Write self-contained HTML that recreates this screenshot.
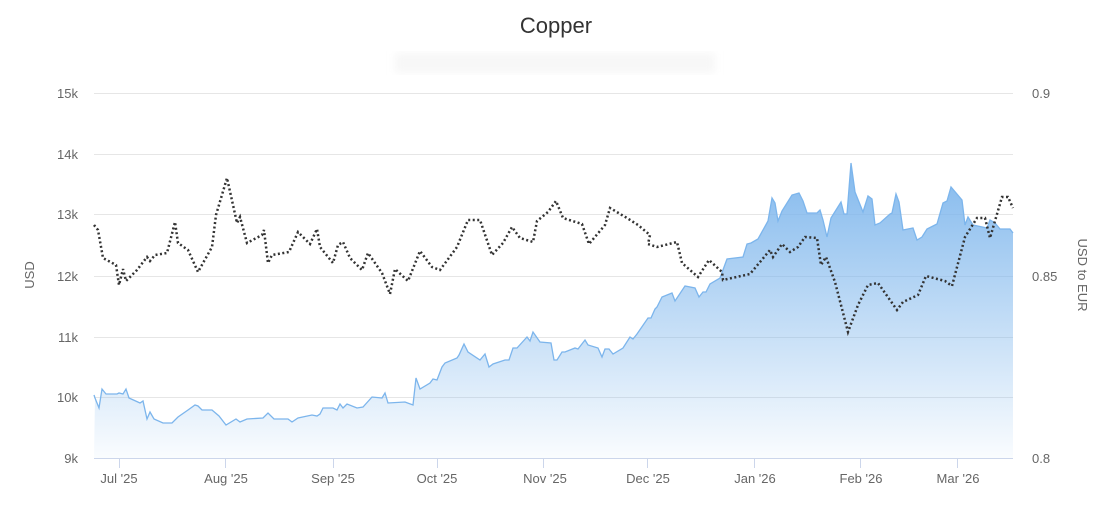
<!DOCTYPE html>
<html><head><meta charset="utf-8"><style>
body{margin:0;background:#fff;font-family:"Liberation Sans",sans-serif}
</style></head><body>
<svg width="1113" height="502" xmlns="http://www.w3.org/2000/svg" font-family="Liberation Sans, sans-serif">
<defs><linearGradient id="g" x1="0" y1="0" x2="0" y2="1">
<stop offset="0" stop-color="#7cb5ec" stop-opacity="0.95"/>
<stop offset="1" stop-color="#7cb5ec" stop-opacity="0.04"/></linearGradient>
<filter id="b"><feGaussianBlur stdDeviation="4"/></filter></defs>
<rect width="1113" height="502" fill="#fff"/>
<text x="556" y="33" text-anchor="middle" font-size="22" fill="#333">Copper</text>
<rect x="395" y="53" width="320" height="20" fill="#f7f7f7" filter="url(#b)"/>
<g stroke="#e6e6e6" stroke-width="1">
<line x1="94" x2="1013" y1="93.5" y2="93.5"/><line x1="94" x2="1013" y1="154.5" y2="154.5"/>
<line x1="94" x2="1013" y1="214.5" y2="214.5"/><line x1="94" x2="1013" y1="276.5" y2="276.5"/>
<line x1="94" x2="1013" y1="337.5" y2="337.5"/><line x1="94" x2="1013" y1="397.5" y2="397.5"/>
</g>
<g font-size="13" fill="#666" text-anchor="end">
<text x="78" y="98">15k</text><text x="78" y="159">14k</text><text x="78" y="219">13k</text>
<text x="78" y="281">12k</text><text x="78" y="342">11k</text><text x="78" y="402">10k</text><text x="78" y="463">9k</text>
</g>
<g font-size="13" fill="#666">
<text x="1032" y="98">0.9</text><text x="1032" y="281">0.85</text><text x="1032" y="463">0.8</text>
</g>
<text transform="translate(34,275) rotate(-90)" text-anchor="middle" font-size="13" fill="#666">USD</text>
<text transform="translate(1078,275) rotate(90)" text-anchor="middle" font-size="13" fill="#666">USD to EUR</text>
<polygon fill="url(#g)" points="94,458 95,398 99,408 102,389 106,394 117,394 119,393 123,394 126,389 129,398 140,403 143,401 147,419 150,412 154,419 163,423 172,423 178,417 188,410 195,405 198,406 202,410 212,410 219,416 226,425 236,419 240,422 247,419 263,418 268,413 274,419 288,419 292,422 298,418 312,415 317,416 320,414 323,408 333,408 337,410 340,404 343,408 347,404 357,408 363,407 372,397 382,398 385,393 388,403 405,402 413,405 416,378 420,389 430,383 433,379 437,380 442,367 445,363 457,358 459,355 464,344 468,352 480,360 485,354 489,367 493,364 505,360 509,360 513,348 517,348 527,337 530,341 533,332 540,342 551,343 554,360 557,360 562,352 565,352 575,348 578,349 585,340 588,345 598,348 602,357 605,349 609,349 613,354 623,348 630,337 633,339 637,334 648,318 651,318 655,309 657,307 662,297 672,293 675,301 685,286 695,288 699,297 703,292 706,292 710,284 720,278 727,259 743,257 747,244 751,243 758,239 768,221 772,198 775,203 778,221 782,211 792,195 799,193 803,201 807,213 817,213 820,210 823,220 827,237 831,218 841,202 844,214 847,214 851,163 855,192 863,212 868,196 872,199 875,225 880,223 890,214 892,213 896,194 899,202 903,230 913,228 917,240 922,237 927,229 937,224 943,203 947,201 951,187 962,200 965,225 968,217 973,225 987,228 990,220 995,223 1000,229 1010,229 1013,233 1013,458"/>
<polyline fill="none" stroke="#7cb5ec" stroke-width="1.3" points="94,395 95,398 99,408 102,389 106,394 117,394 119,393 123,394 126,389 129,398 140,403 143,401 147,419 150,412 154,419 163,423 172,423 178,417 188,410 195,405 198,406 202,410 212,410 219,416 226,425 236,419 240,422 247,419 263,418 268,413 274,419 288,419 292,422 298,418 312,415 317,416 320,414 323,408 333,408 337,410 340,404 343,408 347,404 357,408 363,407 372,397 382,398 385,393 388,403 405,402 413,405 416,378 420,389 430,383 433,379 437,380 442,367 445,363 457,358 459,355 464,344 468,352 480,360 485,354 489,367 493,364 505,360 509,360 513,348 517,348 527,337 530,341 533,332 540,342 551,343 554,360 557,360 562,352 565,352 575,348 578,349 585,340 588,345 598,348 602,357 605,349 609,349 613,354 623,348 630,337 633,339 637,334 648,318 651,318 655,309 657,307 662,297 672,293 675,301 685,286 695,288 699,297 703,292 706,292 710,284 720,278 727,259 743,257 747,244 751,243 758,239 768,221 772,198 775,203 778,221 782,211 792,195 799,193 803,201 807,213 817,213 820,210 823,220 827,237 831,218 841,202 844,214 847,214 851,163 855,192 863,212 868,196 872,199 875,225 880,223 890,214 892,213 896,194 899,202 903,230 913,228 917,240 922,237 927,229 937,224 943,203 947,201 951,187 962,200 965,225 968,217 973,225 987,228 990,220 995,223 1000,229 1010,229 1013,233"/>
<polyline fill="none" stroke="#333" stroke-width="2.5" stroke-dasharray="2,2.5" points="94,225 98,230 103,258 116,265 119,285 123,269 126,281 137,270 147,257 150,261 155,255 167,253 175,222 178,243 188,250 198,272 212,247 216,215 227,178 237,223 240,217 247,243 262,235 264,230 268,263 272,255 289,252 298,232 310,244 317,229 320,247 333,263 338,245 343,242 350,258 362,270 368,253 382,273 390,294 395,269 408,281 420,251 432,267 440,270 457,247 468,220 480,220 492,255 503,243 512,227 520,238 533,242 537,221 548,212 556,201 563,218 582,224 589,244 605,225 610,208 627,218 638,225 650,235 648,244 657,247 677,242 682,263 698,277 709,260 722,272 723,280 750,274 770,250 773,257 782,244 790,252 798,247 805,237 817,238 821,265 826,257 835,282 848,332 858,305 868,285 878,283 897,310 903,302 918,295 926,276 945,281 952,286 965,237 977,218 985,218 990,238 1002,197 1008,197 1013,208"/>
<line x1="94" x2="1013" y1="458.5" y2="458.5" stroke="#ccd6eb"/>
<g stroke="#ccd6eb"><line x1="119.5" x2="119.5" y1="458" y2="468"/><line x1="225.5" x2="225.5" y1="458" y2="468"/><line x1="333.5" x2="333.5" y1="458" y2="468"/><line x1="437.5" x2="437.5" y1="458" y2="468"/><line x1="543.5" x2="543.5" y1="458" y2="468"/><line x1="647.5" x2="647.5" y1="458" y2="468"/><line x1="754.5" x2="754.5" y1="458" y2="468"/><line x1="860.5" x2="860.5" y1="458" y2="468"/><line x1="957.5" x2="957.5" y1="458" y2="468"/></g>
<g font-size="13" fill="#666" text-anchor="middle">
<text x="119" y="483">Jul '25</text><text x="226" y="483">Aug '25</text><text x="333" y="483">Sep '25</text>
<text x="437" y="483">Oct '25</text><text x="545" y="483">Nov '25</text><text x="648" y="483">Dec '25</text>
<text x="755" y="483">Jan '26</text><text x="861" y="483">Feb '26</text><text x="958" y="483">Mar '26</text>
</g>
</svg>
</body></html>
